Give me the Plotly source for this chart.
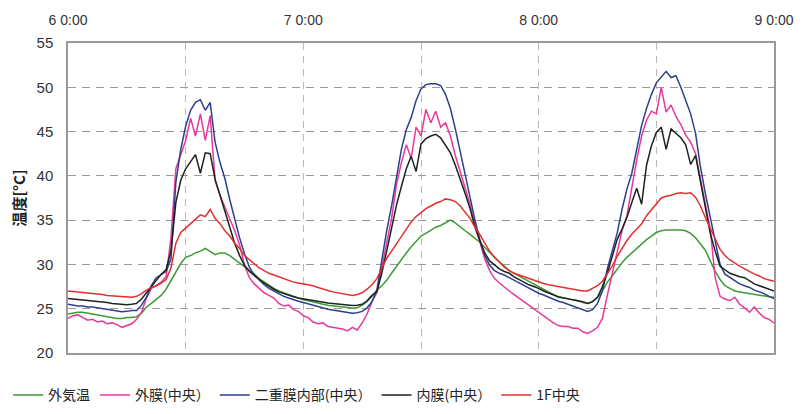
import plotly.graph_objects as go

# Time axis: hours since day 6 0:00, sampled every 30 minutes
hours = [i * 0.5 for i in range(145)]

x_tick_hours = [0, 12, 24, 36, 48, 60, 72]
x_tick_text = ["6 0:00", "", "7 0:00", "", "8 0:00", "", "9 0:00"]

# Temperatures [°C]
outside_air = [
    24.4, 24.5, 24.6, 24.6, 24.5, 24.4, 24.3, 24.2, 24.1, 24.0, 23.9, 23.9,
    24.0, 24.0, 24.1, 24.5, 25.2, 25.6, 26.1, 26.5, 27.2, 28.2, 29.2, 30.1,
    30.8, 31.0, 31.3, 31.5, 31.8, 31.4, 31.1, 31.3, 31.3, 31.0, 30.6, 30.2,
    29.8, 29.4, 28.9, 28.4, 28.0, 27.6, 27.3, 27.0, 26.8, 26.6, 26.4, 26.2,
    26.0, 25.9, 25.75, 25.65, 25.5, 25.4, 25.35, 25.3, 25.2, 25.15, 25.05, 25.1,
    25.4, 25.8, 26.4, 27.1, 27.6, 28.2, 29.0, 29.8, 30.6, 31.3, 32.0, 32.6,
    33.2, 33.5, 33.9, 34.2, 34.4, 34.7, 35.0, 34.7, 34.2, 33.8, 33.4, 33.0,
    32.5, 31.9, 31.3, 30.8, 30.3, 29.8, 29.3, 29.0, 28.7, 28.4, 28.1, 27.8,
    27.5, 27.2, 26.9, 26.6, 26.3, 26.2, 26.1, 26.0, 25.9, 25.7, 25.6, 25.8,
    26.3, 27.0, 28.0, 28.7, 29.5, 30.2, 30.8, 31.3, 31.9, 32.4, 32.8, 33.2,
    33.6, 33.8, 33.9, 33.9, 33.9, 33.9, 33.8, 33.5, 33.0, 32.3, 31.6, 30.4,
    29.2, 28.3, 27.6, 27.3, 27.0, 26.9, 26.8, 26.7, 26.6, 26.5, 26.4, 26.35,
    26.3,
]

outer_film = [
    23.9, 24.2, 24.3, 24.0, 23.7, 23.8, 23.5, 23.6, 23.3, 23.4, 23.2, 22.9,
    23.1, 23.3, 23.8, 24.6, 26.2, 27.3, 27.6, 28.0, 28.6, 33.0, 40.8, 42.3,
    44.0, 46.5, 44.5, 47.0, 44.0, 46.8, 39.5, 37.8, 36.5, 35.3, 33.8, 32.2,
    29.9, 28.5, 27.8, 27.3, 26.8, 26.5, 26.2, 25.6, 25.3, 25.4, 24.9, 24.7,
    24.2, 24.0, 23.5, 23.3, 23.4, 23.0, 22.9, 22.8, 22.7, 22.5, 22.9, 22.6,
    23.4, 24.4, 25.8, 26.8, 29.5, 32.5, 35.2, 39.0, 41.5, 43.5, 42.0, 45.5,
    44.5, 47.5, 46.0, 47.3, 45.5, 46.0, 44.5, 42.3, 40.5, 38.5, 36.8, 34.5,
    32.4, 30.6, 29.3, 28.4, 27.9, 27.4, 27.0, 26.6, 26.2, 25.8, 25.4, 25.0,
    24.5, 24.1, 23.7, 23.4, 23.1, 23.0, 23.0, 22.8, 22.8, 22.4, 22.2, 22.5,
    22.9, 23.9, 26.5, 29.0, 31.4, 33.8, 35.5, 38.7, 41.8, 44.5, 46.3, 47.3,
    47.0, 50.0, 47.2, 48.0, 46.7, 45.8, 44.6, 43.8, 42.5, 39.6, 37.0, 34.0,
    28.5, 26.4, 26.1, 25.9, 26.3, 25.5, 25.1, 24.6, 25.2, 24.5, 24.0, 23.8,
    23.4,
]

double_film_inside = [
    25.5, 25.4, 25.3, 25.3, 25.2, 25.2, 25.1, 25.0, 24.9, 24.8, 24.7, 24.65,
    24.7, 24.8, 24.8, 25.4, 26.3, 27.6, 28.5, 28.9, 29.2, 30.6, 39.3, 43.0,
    45.6, 47.4, 48.3, 48.6, 47.4, 48.3, 43.8, 41.5, 39.7, 37.3, 35.0, 33.0,
    31.2, 29.7, 28.8, 28.2, 27.7, 27.3, 27.0, 26.7, 26.4, 26.2, 26.0, 25.85,
    25.7, 25.55, 25.35, 25.2, 25.05, 24.95, 24.85, 24.75, 24.65, 24.6, 24.5, 24.55,
    24.7, 25.1, 25.8, 27.1, 30.5, 33.8, 36.6, 40.0, 43.0, 45.2, 46.6, 48.5,
    49.8, 50.3, 50.4, 50.4, 50.2, 49.2, 47.6, 45.3, 42.6, 40.0, 37.6, 35.0,
    32.8, 31.0, 29.9, 29.3, 29.0, 28.8, 28.5, 28.2, 27.9, 27.6, 27.3, 27.0,
    26.75, 26.55, 26.3, 26.1, 25.85, 25.7, 25.5, 25.35, 25.1, 24.9, 24.7, 24.9,
    25.6, 27.0, 29.5, 31.5, 33.5, 36.2, 38.5, 40.3, 43.2, 45.7, 47.6, 49.2,
    50.5, 51.2, 51.8, 51.1, 51.3, 50.0, 48.4, 47.0, 44.8, 41.0, 38.0, 35.3,
    32.4, 30.0, 28.9, 28.5, 28.1, 27.8, 27.6, 27.4, 27.1, 26.9, 26.7, 26.4,
    26.15,
]

inner_film = [
    26.15, 26.1, 26.0, 25.95, 25.9, 25.85, 25.8, 25.75, 25.7, 25.6, 25.55, 25.5,
    25.45, 25.5, 25.6, 26.1, 26.8, 27.6, 28.2, 28.9, 29.4, 31.5, 37.0, 39.5,
    40.8, 41.6, 42.4, 40.3, 42.6, 42.5, 39.6, 37.8, 36.0, 34.0, 32.4, 31.0,
    29.9, 29.2, 28.7, 28.3, 27.9, 27.5, 27.2, 26.9, 26.7, 26.5, 26.35, 26.2,
    26.1, 26.0, 25.95, 25.85, 25.7, 25.65, 25.6, 25.55, 25.5, 25.45, 25.35, 25.4,
    25.5, 25.9, 26.5, 26.9, 29.0, 31.5, 34.3, 36.7, 38.8, 40.8, 42.2, 40.5,
    43.6, 44.2, 44.5, 44.7, 44.3, 43.5, 42.6, 41.2, 39.7, 38.0, 36.3, 34.2,
    32.7, 31.3, 30.4, 29.9, 29.5, 29.2, 29.0, 28.6, 28.3, 28.0, 27.7, 27.5,
    27.3, 27.0, 26.8, 26.6, 26.35, 26.25, 26.1, 26.0, 25.9, 25.8, 25.6, 25.8,
    26.3, 27.5, 29.0, 30.8, 32.8, 34.0, 35.3, 37.0, 38.6, 36.8, 41.2, 43.4,
    44.9, 45.5, 43.0, 45.3, 44.8, 44.3, 43.5, 41.3, 42.3, 39.3, 36.5, 33.5,
    31.5, 29.8, 29.4, 29.0, 28.8, 28.6, 28.5, 28.1, 27.8, 27.6, 27.4, 27.2,
    27.0,
]

first_floor = [
    27.0, 26.95, 26.9, 26.85, 26.8, 26.7, 26.65, 26.6, 26.5, 26.45, 26.4, 26.35,
    26.3, 26.3, 26.4, 26.7, 27.1, 27.4, 27.6, 27.9, 28.3, 29.6, 32.4, 33.6,
    34.1, 34.6, 35.0, 35.6, 35.4, 36.2, 35.2, 34.6, 33.8, 33.2, 32.4, 31.8,
    31.0, 30.5, 30.0, 29.6, 29.3, 29.0, 28.8, 28.6, 28.4, 28.2, 28.0, 27.9,
    27.8, 27.7, 27.6, 27.4, 27.2, 27.05, 26.9, 26.8, 26.65, 26.55, 26.5, 26.6,
    26.8, 27.2, 27.7, 28.4, 29.5, 30.7, 31.5, 32.3, 33.2, 34.0, 34.8, 35.4,
    35.9, 36.3, 36.6, 36.9, 37.1, 37.4, 37.3, 37.1, 36.6, 35.9, 35.2, 34.2,
    33.4, 32.4, 31.5, 30.8, 30.2, 29.7, 29.3, 29.0, 28.8, 28.6, 28.4, 28.2,
    28.0, 27.85, 27.7, 27.6, 27.5, 27.4, 27.3, 27.2, 27.1, 27.0, 27.0, 27.3,
    27.6, 28.1, 28.9, 29.8, 30.9, 31.8, 32.7, 33.4, 34.0, 34.6, 35.5, 36.2,
    36.9, 37.5, 37.7, 37.8, 38.0, 38.1, 38.0, 38.1, 37.6, 36.6, 35.3, 34.0,
    32.9, 31.7, 31.0, 30.5, 30.1, 29.8, 29.5, 29.2, 28.9, 28.7, 28.4, 28.25,
    28.1,
]

series = [
    ("外気温", outside_air, "#3f9a35"),
    ("外膜(中央）", outer_film, "#e8399a"),
    ("二重膜内部(中央）", double_film_inside, "#2e3f8f"),
    ("内膜(中央）", inner_film, "#1c2320"),
    ("1F中央", first_floor, "#e2302e"),
]

font_family = "Liberation Sans, Arial, Noto Sans CJK JP, sans-serif"

fig = go.Figure()
for name, values, color in series:
    fig.add_trace(go.Scatter(
        x=hours, y=values, name=name, mode="lines",
        line=dict(color=color, width=1.5),
    ))

fig.update_layout(
    width=806, height=414,
    margin=dict(l=68, r=25, t=42, b=61),
    paper_bgcolor="white", plot_bgcolor="white",
    font=dict(family=font_family, size=13, color="#333333"),
    showlegend=True,
    legend=dict(
        orientation="h",
        xref="container", yref="container",
        x=0.01, y=0.045, xanchor="left", yanchor="middle",
        font=dict(family="Noto Sans CJK JP, sans-serif", size=14, color="#222222"),
        itemwidth=30, tracegroupgap=0,
    ),
)

fig.update_xaxes(
    range=[0, 72], side="top",
    tickmode="array", tickvals=x_tick_hours, ticktext=x_tick_text,
    ticks="", ticklabelstandoff=11,
    tickfont=dict(size=14, color="#333333"),
    showgrid=True, gridcolor="#b8b8b8", griddash="7px,6px", gridwidth=1,
    showline=True, linecolor="#9a9a9a", linewidth=1.5, mirror=True,
    zeroline=False,
)

fig.update_yaxes(
    range=[20, 55], dtick=5, tick0=20,
    ticks="", ticklabelstandoff=10,
    tickfont=dict(size=15, color="#333333"),
    showgrid=True, gridcolor="#9a9a9a", griddash="8px,6px", gridwidth=1,
    showline=True, linecolor="#9a9a9a", linewidth=1.5, mirror=True,
    zeroline=False,
    title=dict(text="温度[°C]", standoff=7,
               font=dict(family="Noto Sans CJK JP, sans-serif", size=15, color="#222222",
                         weight="bold")),
)

fig.write_html("out.html")
